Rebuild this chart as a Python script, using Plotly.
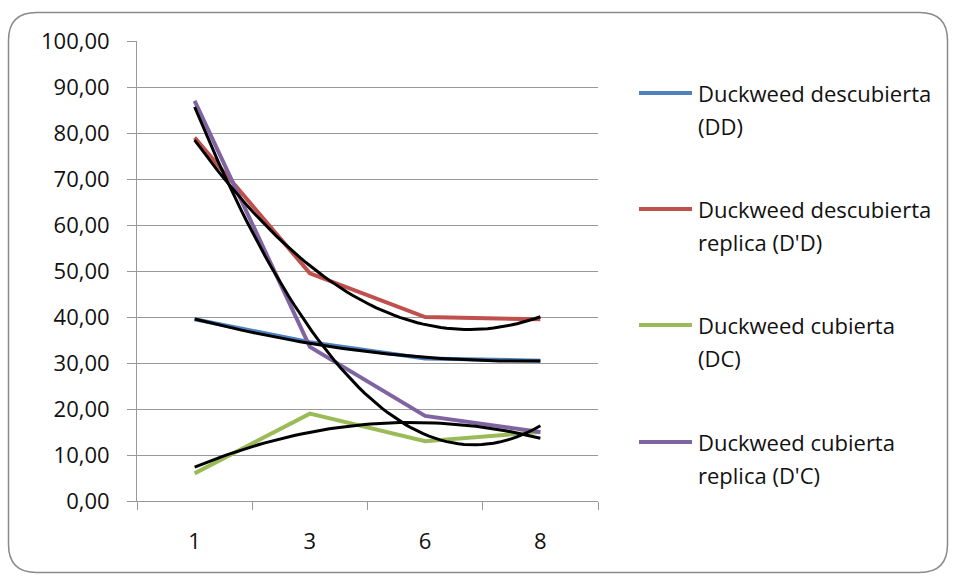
import numpy as np
import plotly.graph_objects as go

categories = ["1", "3", "6", "8"]
dd = [39.5, 34.5, 31.0, 30.5]
dpd = [79.0, 49.5, 40.0, 39.5]
dc = [6.0, 19.0, 13.0, 15.0]
dpc = [87.0, 33.5, 18.5, 15.0]
names = ["Duckweed descubierta (DD)", "Duckweed descubierta replica (D'D)",
         "Duckweed cubierta (DC)", "Duckweed cubierta replica (D'C)"]
legend_lines = [["Duckweed descubierta", "(DD)"],
                ["Duckweed descubierta", "replica (D'D)"],
                ["Duckweed cubierta", "(DC)"],
                ["Duckweed cubierta", "replica (D'C)"]]
colors = ["#4F81BD", "#C0504D", "#9BBB59", "#8064A2"]
series = [dd, dpd, dc, dpc]

W, H = 956, 580
L, R, T, B = 137, 598, 41, 501
FONT = "Open Sans"
TXT = "#111111"
GRID = "#999999"


def px(x):
    return (x - L) / (R - L)


def py(y):
    return (B - y) / (B - T)


pos = np.arange(1, len(categories) + 1)
fig = go.Figure()
for name, vals, col in zip(names, series, colors):
    fig.add_trace(go.Scatter(x=pos, y=vals, mode="lines", name=name,
                             line=dict(color=col, width=4), showlegend=False))

# polynomial (order 2) trendlines, as in the spreadsheet
xs = np.linspace(1, len(categories), 60)
for name, vals in zip(names, series):
    coef = np.polyfit(pos, vals, 2)
    fig.add_trace(go.Scatter(x=xs, y=np.polyval(coef, xs), mode="lines",
                             name="Poly. (" + name + ")",
                             line=dict(color="black", width=3), showlegend=False))

shapes = []
annotations = []
# rounded chart border
x0, x1, y0, y1, r = 8.5, 947.5, 12.5, 572.5, 28
path = (f"M{px(x0+r)},{py(y0)} L{px(x1-r)},{py(y0)} Q{px(x1)},{py(y0)} {px(x1)},{py(y0+r)} "
        f"L{px(x1)},{py(y1-r)} Q{px(x1)},{py(y1)} {px(x1-r)},{py(y1)} "
        f"L{px(x0+r)},{py(y1)} Q{px(x0)},{py(y1)} {px(x0)},{py(y1-r)} "
        f"L{px(x0)},{py(y0+r)} Q{px(x0)},{py(y0)} {px(x0+r)},{py(y0)} Z")
shapes.append(dict(type="path", xref="paper", yref="paper", path=path,
                   line=dict(color="#8a8a8a", width=1.5), layer="below"))

# manual legend
entry_y = [93, 209, 325, 442]
for lines, col, ey in zip(legend_lines, colors, entry_y):
    shapes.append(dict(type="line", xref="paper", yref="paper",
                       x0=px(639), x1=px(692), y0=py(ey), y1=py(ey),
                       line=dict(color=col, width=4)))
    for k, txt in enumerate(lines):
        annotations.append(dict(xref="paper", yref="paper", x=px(696), y=py(ey + 33 * k),
                                text=txt, showarrow=False, xanchor="left", yanchor="middle",
                                font=dict(family=FONT, size=22, color=TXT)))

fig.update_layout(
    width=W, height=H,
    margin=dict(l=L, r=W - R, t=T, b=H - B),
    paper_bgcolor="white", plot_bgcolor="white",
    separators=",.",
    font=dict(family=FONT, size=22, color=TXT),
    shapes=shapes, annotations=annotations,
    xaxis=dict(range=[0.5, len(categories) + 0.5], tickvals=pos, ticktext=categories,
               ticks="", showgrid=False, zeroline=False, showline=True,
               linecolor=GRID, linewidth=1,
               ticklabelstandoff=21,
               minor=dict(tickvals=np.arange(0.5, len(categories) + 1, 1.0), ticks="outside",
                          ticklen=8, tickcolor=GRID, tickwidth=1, showgrid=False)),
    yaxis=dict(range=[0, 100], dtick=10, tickformat=".2f", ticks="outside", ticklen=9,
               tickcolor=GRID, showgrid=True, gridcolor=GRID, gridwidth=1,
               zeroline=False, showline=True, linecolor=GRID, linewidth=1,
               ticklabelstandoff=13),
)
fig.write_html("out.html")
